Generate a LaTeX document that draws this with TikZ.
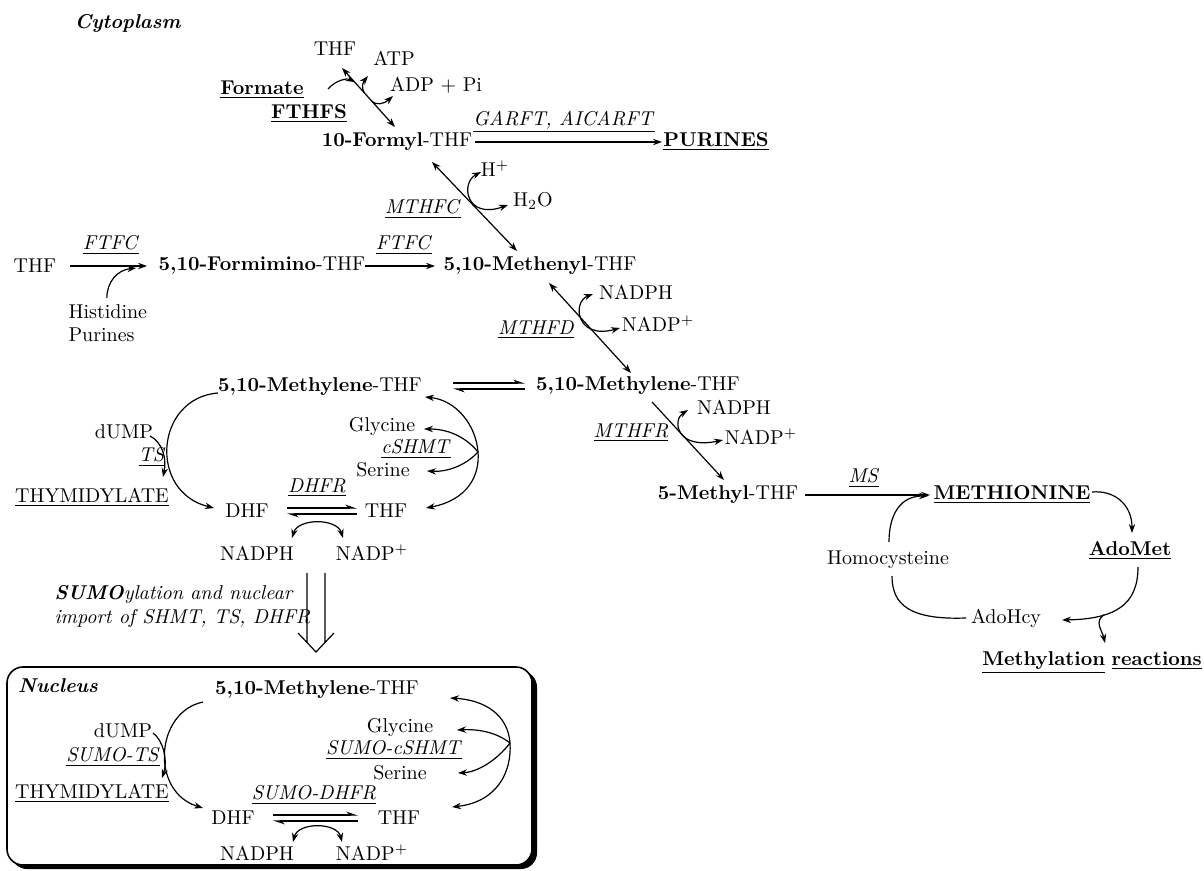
\documentclass[tikz,border=0pt]{standalone}
\usetikzlibrary{arrows.meta}
\newcommand{\enzyme}[1]{\underline{\textit{#1}}}
\newcommand{\folate}[1]{\textbf{#1}-THF}

\begin{document}
\begin{tikzpicture}[x=0.5pt, y=-0.5pt, line width=0.6pt,
		every node/.style={inner sep=1pt},
		rxn/.style={-{Stealth[length=4.5pt, width=3.2pt]}},
		rev/.style={{Stealth[length=4.5pt, width=3.2pt]}-{Stealth[length=4.5pt, width=3.2pt]}},
		fwd/.style={-{Stealth[harpoon, length=5pt, width=3.4pt]}}]
		%%%%% START %%%%%
		\useasboundingbox (0, 0) rectangle (1204, 871);
		
		\node (cyto) at (128, 23) {\textbf{\textit{Cytoplasm}}};
		
		\node (thfa) at (335, 49) {THF};
		\node (atp) at (394, 58) {ATP};
		\node (adp) at (436, 85) {ADP + Pi};
		\node (formate) at (262, 90) {\underline{\textbf{Formate}}};
		\node (fthfs) at (309, 114) {\underline{\textbf{FTHFS}}};
		\node (formyl) at (397, 142) {\folate{10-Formyl}};
		\node (garft) at (564, 122) {\enzyme{GARFT, AICARFT}};
		\node (purines) at (716, 142) {\underline{\textbf{PURINES}}};
		\node (hplus) at (495, 169) {H\textsuperscript{+}};
		\node (water) at (533, 201) {H\textsubscript{2}O};
		\node (mthfc) at (423, 209) {\enzyme{MTHFC}};
		
		\draw[rev] ([shift={(7, 19)}]thfa.center) -- ([shift={(-2, -15)}]formyl.center)
			coordinate[pos=0.24] (fthfsa) coordinate[pos=0.42] (fthfsb) coordinate[pos=0.55] (fthfsc);
		\draw[rxn] ([shift={(66, -1)}]formate.center) .. controls (336, 80) and (347, 78) .. (fthfsa);
		\draw[rxn] (fthfsb) .. controls (361, 88) and (363, 82) .. ([shift={(-26, 18)}]atp.center);
		\draw[rxn] (fthfsc) .. controls (376, 106) and (384, 104) .. ([shift={(-43, 11)}]adp.center);
		\draw[rxn] ([shift={(78, 0)}]formyl.center) -- ([shift={(-54, 0)}]purines.center);
		
		% formimino row
		\node (thfb) at (35, 266) {THF};
		\node (ftfca) at (111, 245) {\enzyme{FTFC}};
		\node[anchor=west] (histidine) at (66, 312) {Histidine};
		\node[anchor=west] (purinesb) at (66, 335) {Purines};
		\node (formimino) at (262, 266) {\folate{5,10-Formimino}};
		\node (ftfcb) at (404, 245) {\enzyme{FTFC}};
		\node (methenyl) at (540, 266) {\folate{5,10-Methenyl}};
		\node (nadpha) at (636, 292) {NADPH};
		\node (nadpa) at (658, 324) {NADP\textsuperscript{+}};
		\node (mthfd) at (536, 330) {\enzyme{MTHFD}};
		
		\draw[rev] ([shift={(35, 20)}]formyl.center) -- ([shift={(-23, -15)}]methenyl.center);
		\draw[rev] ([shift={(-14, 3)}]hplus.center) .. controls (460, 183) and (466, 220) .. ([shift={(-25, 4)}]water.center);
		\draw[rxn] ([shift={(35, 0)}]thfb.center) -- ([shift={(-115, 0)}]formimino.center) coordinate[pos=0.86] (ftfcin);
		\draw[rxn] ([shift={(-1, -14)}]histidine.center) .. controls (107, 282) and (117, 270) .. ([shift={(0, 2)}]ftfcin);
		\draw[rxn] ([shift={(103, 0)}]formimino.center) -- ([shift={(-105, 0)}]methenyl.center);
		
		% methylene row
		\node (methylenea) at (320, 387) {\folate{5,10-Methylene}};
		\node (methyleneb) at (638, 386) {\folate{5,10-Methylene}};
		\node (nadphb) at (734, 407) {NADPH};
		\node (nadpb) at (761, 437) {NADP\textsuperscript{+}};
		\node (mthfr) at (631, 433) {\enzyme{MTHFR}};
		\node (methyl) at (728, 495) {\folate{5-Methyl}};
		
		\draw[rev] ([shift={(9, 17)}]methenyl.center) -- ([shift={(-7, -13)}]methyleneb.center);
		\draw[rev] ([shift={(-43, 2)}]nadpha.center) .. controls (572, 302) and (576, 340) .. ([shift={(-38, 4)}]nadpa.center);
		\draw[fwd] ([shift={(133, -4)}]methylenea.center) -- ([shift={(-113, -3)}]methyleneb.center);
		\draw[fwd] ([shift={(-113, 3)}]methyleneb.center) -- ([shift={(133, 2)}]methylenea.center);
		\draw[rxn] ([shift={(14, 16)}]methyleneb.center) -- ([shift={(-4, -15)}]methyl.center);
		\draw[rev] ([shift={(-46, 3)}]nadphb.center) .. controls (672, 420) and (676, 450) .. ([shift={(-38, 3)}]nadpb.center);
		
		% thymidylate cycle
		\node (dump) at (124, 432) {dUMP};
		\node (ts) at (152, 457) {\enzyme{TS}};
		\node (thymidylate) at (92, 497) {\underline{THYMIDYLATE}};
		\node (glycine) at (382, 426) {Glycine};
		\node (cshmt) at (416, 449) {\enzyme{cSHMT}};
		\node (serine) at (383, 470) {Serine};
		\node (dhfr) at (317, 488) {\enzyme{DHFR}};
		\node (dhf) at (247, 511) {DHF};
		\node (thfc) at (386, 511) {THF};
		\node (nadphc) at (257, 553) {NADPH};
		\node (nadpc) at (372, 553) {NADP\textsuperscript{+}};
		\coordinate (shmthub) at (478, 452);
		
		\draw[rxn] ([shift={(-102, 6)}]methylenea.center) .. controls (155, 398) and (148, 492) .. ([shift={(-33, -3)}]dhf.center);
		\draw[rxn] ([shift={(26, 4)}]dump.center) .. controls (162, 442) and (167, 458) .. ([shift={(71, -20)}]thymidylate.center);
		\draw[fwd] ([shift={(40, -3)}]dhf.center) -- ([shift={(-29, -3)}]thfc.center);
		\draw[fwd] ([shift={(-29, 3)}]thfc.center) -- ([shift={(40, 3)}]dhf.center);
		\draw[rev] ([shift={(35, -15)}]nadphc.center) .. controls (298, 518) and (337, 518) .. ([shift={(-29, -15)}]nadpc.center);
		\draw[rev] ([shift={(40, -3)}]thfc.center) .. controls (468, 500) and (480, 475) .. (shmthub)
			.. controls (476, 425) and (456, 400) .. ([shift={(105, 10)}]methylenea.center);
		\draw[rxn] (shmthub) .. controls (465, 436) and (447, 429) .. ([shift={(42, 3)}]glycine.center);
		\draw[rxn] (shmthub) .. controls (465, 466) and (447, 472) .. ([shift={(44, 1)}]serine.center);
		
		% methionine cycle
		\node (ms) at (864, 478) {\enzyme{MS}};
		\node (methionine) at (1012, 495) {\underline{\textbf{METHIONINE}}};
		\node (homocys) at (888, 560) {Homocysteine};
		\node (adomet) at (1130, 551) {\underline{\textbf{AdoMet}}};
		\node (adohcy) at (1006, 618) {AdoHcy};
		\node (methylation) at (1092, 663) {\underline{\textbf{Methylation}} \underline{\textbf{reactions}}};
		
		\draw[rxn] ([shift={(77, 0)}]methyl.center) -- ([shift={(-82, 0)}]methionine.center) coordinate[pos=1] (msend);
		\draw[rxn] ([shift={(1, -18)}]homocys.center) .. controls (889, 515) and (900, 496) .. ([shift={(-2, 1)}]msend);
		\draw[rxn] ([shift={(80, -3)}]methionine.center) .. controls (1115, 490) and (1132, 505) .. ([shift={(2, -18)}]adomet.center);
		\draw[rxn] ([shift={(8, 16)}]adomet.center) .. controls (1138, 605) and (1115, 619) .. ([shift={(56, 2)}]adohcy.center)
			coordinate[pos=0.68] (methbranch);
		\draw[rxn] (methbranch) .. controls (1094, 622) and (1102, 630) .. ([shift={(13, -20)}]methylation.center);
		\draw ([shift={(-40, 0)}]adohcy.center) .. controls (910, 620) and (892, 605) .. ([shift={(4, 16)}]homocys.center);
		
		% import into the nucleus
		\node[anchor=west, align=left, font=\itshape] (sumo) at (52, 607) {\textbf{SUMO}ylation and nuclear\\import of SHMT, TS, DHFR};
		\coordinate (sumotop) at (316, 573);
		\draw ([shift={(-9, 0)}]sumotop) -- ++(0, 69.5) ([shift={(9, 0)}]sumotop) -- ++(0, 69.5)
			([shift={(-18, 60)}]sumotop) -- ([shift={(0, 79)}]sumotop) -- ([shift={(18, 60)}]sumotop);
		
		\fill[rounded corners=8] (11, 671) rectangle (537, 869);
		\draw[fill=white, rounded corners=8, line width=0.8pt] (7, 667) rectangle (532, 865);
		
		% nucleus
		\node (nucleus) at (58, 686) {\textbf{\textit{Nucleus}}};
		\node (methylenen) at (317, 690) {\folate{5,10-Methylene}};
		\node (dumpn) at (123, 731) {dUMP};
		\node (sumots) at (113, 757) {\enzyme{SUMO-TS}};
		\node (thymidylaten) at (92, 793) {\underline{THYMIDYLATE}};
		\node (glycinen) at (400, 727) {Glycine};
		\node (sumocshmt) at (394, 750) {\enzyme{SUMO-cSHMT}};
		\node (serinen) at (400, 773) {Serine};
		\node (sumodhfr) at (314, 795) {\enzyme{SUMO-DHFR}};
		\node (dhfn) at (233, 818) {DHF};
		\node (thfn) at (399, 818) {THF};
		\node (nadphn) at (257, 853) {NADPH};
		\node (nadpn) at (372, 853) {NADP\textsuperscript{+}};
		\coordinate (shmthubn) at (510, 743);
		
		\draw[rxn] ([shift={(-114, 12)}]methylenen.center) .. controls (155, 712) and (150, 792) .. ([shift={(-30, -10)}]dhfn.center);
		\draw[rxn] ([shift={(30, 2)}]dumpn.center) .. controls (163, 740) and (168, 760) .. ([shift={(70, -15)}]thymidylaten.center);
		\draw[fwd] ([shift={(40, -3)}]dhfn.center) -- ([shift={(-41, -3)}]thfn.center);
		\draw[fwd] ([shift={(-41, 3)}]thfn.center) -- ([shift={(40, 3)}]dhfn.center);
		\draw[rev] ([shift={(36, -11)}]nadphn.center) .. controls (298, 822) and (337, 822) .. ([shift={(-30, -11)}]nadpn.center);
		\draw[rev] ([shift={(53, -11)}]thfn.center) .. controls (497, 802) and (512, 772) .. (shmthubn)
			.. controls (508, 715) and (485, 700) .. ([shift={(133, 8)}]methylenen.center);
		\draw[rxn] (shmthubn) .. controls (496, 732) and (478, 729) .. ([shift={(57, 3)}]glycinen.center);
		\draw[rxn] (shmthubn) .. controls (497, 760) and (478, 772) .. ([shift={(58, 0)}]serinen.center);
		
		%%%%% END %%%%%
	\end{tikzpicture}
\end{document}
